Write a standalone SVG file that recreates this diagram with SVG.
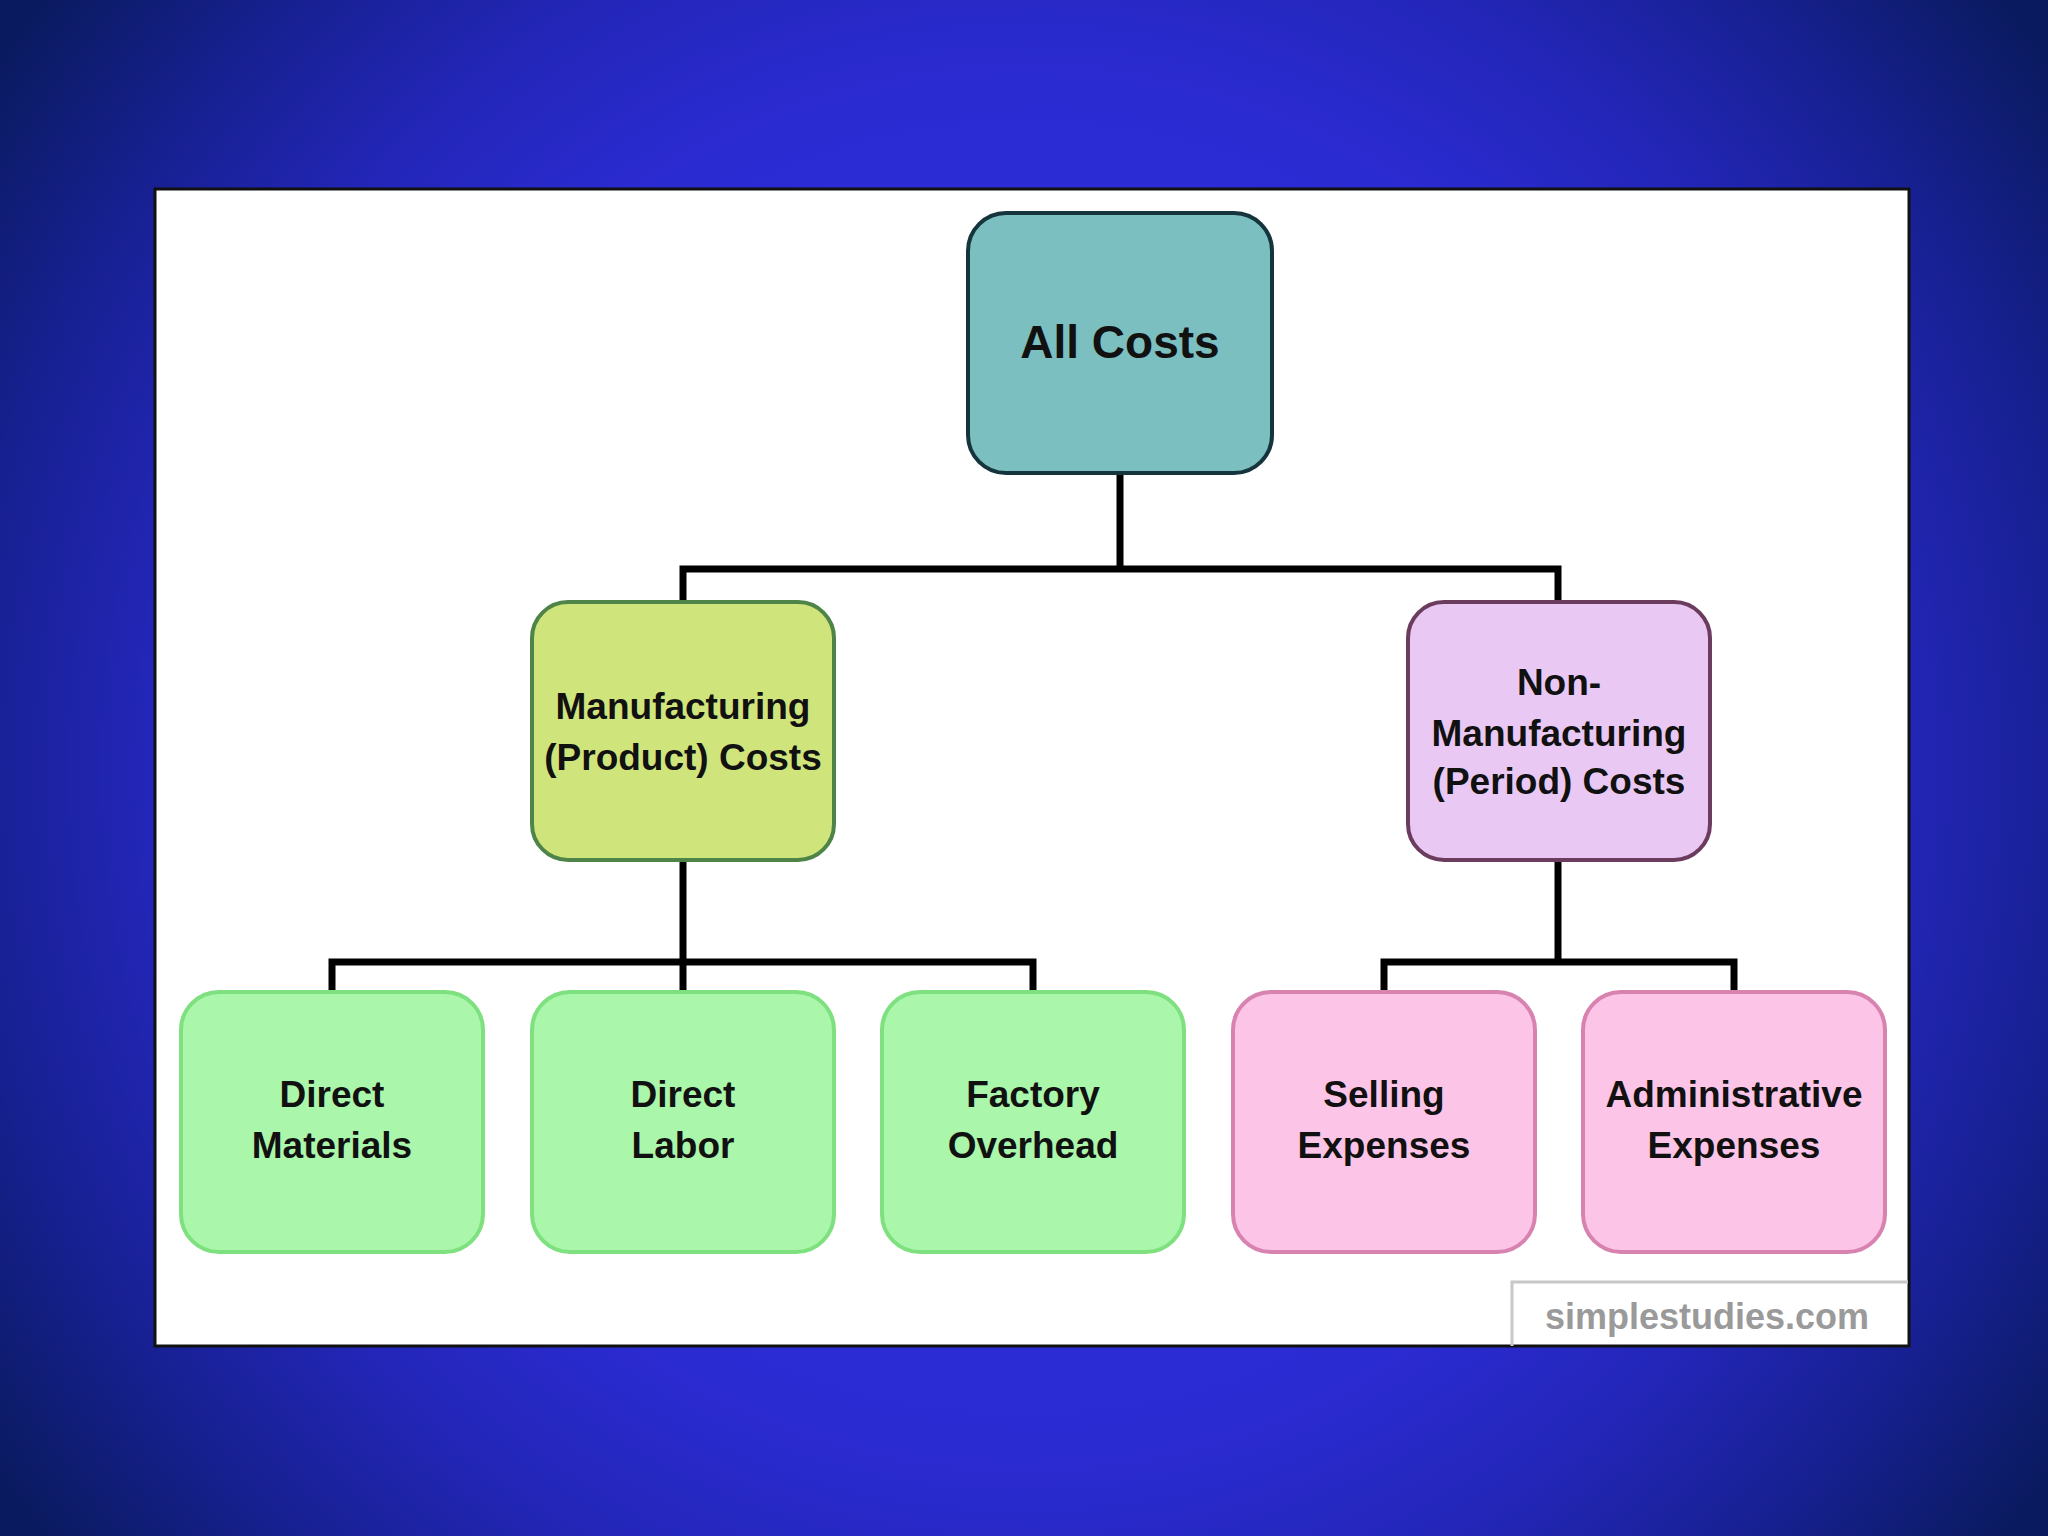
<svg xmlns="http://www.w3.org/2000/svg" width="2048" height="1536" viewBox="0 0 2048 1536">
<defs>
<radialGradient id="bg" gradientUnits="userSpaceOnUse" cx="1024" cy="768" r="1250">
<stop offset="0" stop-color="#3434e8"/>
<stop offset="0.55" stop-color="#2b2bd2"/>
<stop offset="0.7" stop-color="#2326b8"/>
<stop offset="0.85" stop-color="#172090"/>
<stop offset="1" stop-color="#0a1a5e"/>
</radialGradient>
<style>
text{font-family:"Liberation Sans",Arial,sans-serif;font-weight:bold;fill:#111;text-anchor:middle}
.t1{font-size:46px}
.t2{font-size:37px}
.conn{fill:none;stroke:#000;stroke-width:7;stroke-linejoin:miter;stroke-linecap:square}
.green{fill:#aaf6aa;stroke:#7ee07e;stroke-width:4}
.pink{fill:#fcc4e6;stroke:#d882b0;stroke-width:4}
</style>
</defs>
<rect width="2048" height="1536" fill="url(#bg)"/>
<rect x="155" y="189" width="1754" height="1157" fill="#fff" stroke="#111" stroke-width="3"/>
<g id="watermark">
<path d="M1512 1346 V1282 H1908" fill="none" stroke="#c8c8c8" stroke-width="3"/>
<text x="1707" y="1329" style="font-size:36px;fill:#9a9a9a">simplestudies.com</text>
</g>
<g id="connectors">
<path class="conn" d="M1120 473 V569 M683 600 V569 H1558 V600"/>
<path class="conn" d="M683 860 V962 M332 990 V962 H1033 V990 M683 962 V990"/>
<path class="conn" d="M1558 860 V962 M1384 990 V962 H1734 V990"/>
</g>
<g id="all-costs">
<rect x="968" y="213" width="304" height="260" rx="38" fill="#7cbfc0" stroke="#16343c" stroke-width="4"/>
<text class="t1" x="1120" y="358">All Costs</text>
</g>
<g id="manufacturing">
<rect x="532" y="602" width="302" height="258" rx="36" fill="#d0e47c" stroke="#4f8448" stroke-width="4"/>
<text class="t2" x="683" y="719">Manufacturing</text>
<text class="t2" x="683" y="770">(Product) Costs</text>
</g>
<g id="non-manufacturing">
<rect x="1408" y="602" width="302" height="258" rx="36" fill="#e9c9f4" stroke="#6c3c5e" stroke-width="4"/>
<text class="t2" x="1559" y="695">Non-</text>
<text class="t2" x="1559" y="746">Manufacturing</text>
<text class="t2" x="1559" y="794">(Period) Costs</text>
</g>
<g id="direct-materials">
<rect class="green" x="181" y="992" width="302" height="260" rx="38"/>
<text class="t2" x="332" y="1107">Direct</text>
<text class="t2" x="332" y="1158">Materials</text>
</g>
<g id="direct-labor">
<rect class="green" x="532" y="992" width="302" height="260" rx="38"/>
<text class="t2" x="683" y="1107">Direct</text>
<text class="t2" x="683" y="1158">Labor</text>
</g>
<g id="factory-overhead">
<rect class="green" x="882" y="992" width="302" height="260" rx="38"/>
<text class="t2" x="1033" y="1107">Factory</text>
<text class="t2" x="1033" y="1158">Overhead</text>
</g>
<g id="selling-expenses">
<rect class="pink" x="1233" y="992" width="302" height="260" rx="38"/>
<text class="t2" x="1384" y="1107">Selling</text>
<text class="t2" x="1384" y="1158">Expenses</text>
</g>
<g id="administrative-expenses">
<rect class="pink" x="1583" y="992" width="302" height="260" rx="38"/>
<text class="t2" x="1734" y="1107">Administrative</text>
<text class="t2" x="1734" y="1158">Expenses</text>
</g>
</svg>
